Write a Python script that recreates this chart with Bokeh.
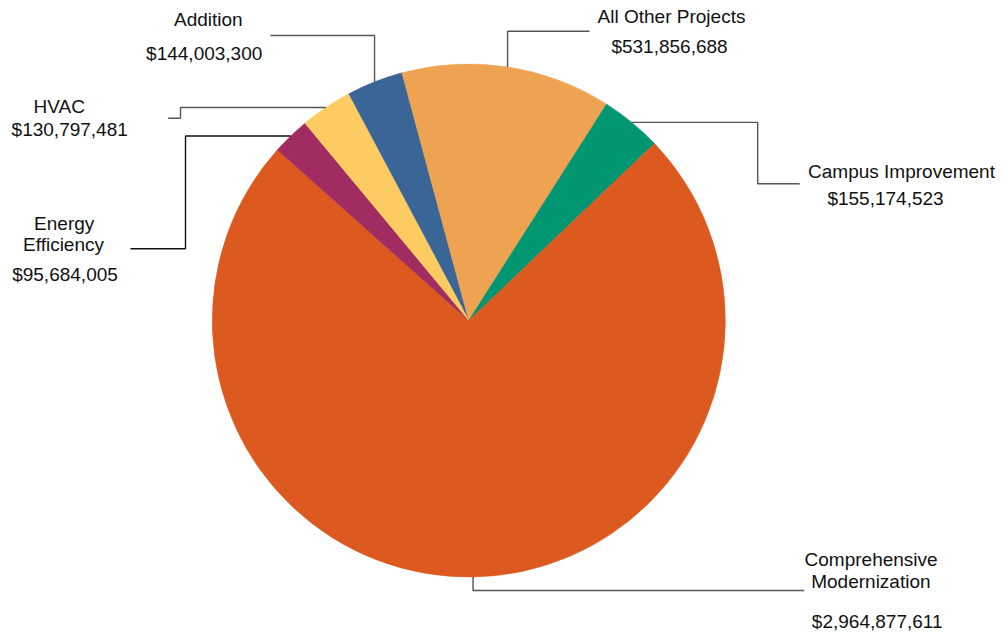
import numpy as np
from bokeh.plotting import figure
from bokeh.models import Range1d
from bokeh.embed import file_html
from bokeh.resources import INLINE
from bokeh.core.properties import value

# ---------------- data ----------------
categories = ["Addition", "All Other Projects", "Campus Improvement",
              "Comprehensive Modernization", "Energy Efficiency", "HVAC"]
amounts = [144003300, 531856688, 155174523, 2964877611, 95684005, 130797481]
colors = ["#3A6597", "#EEA352", "#009672", "#DC5A20", "#A02C61", "#FCCB61"]

# ---------------- layout (reference pixel coords, y downward) ----------------
W, H = 1003, 634
CX, CY, R = 468.3, 320.0, 256.5
START = -28.0  # degrees, clockwise from 12 o'clock

name_lines = {
    "Addition": [("Addition", 207.8, 18.5)],
    "All Other Projects": [("All Other Projects", 671.0, 15.5)],
    "Campus Improvement": [("Campus Improvement", 901.0, 170.5)],
    "Comprehensive Modernization": [("Comprehensive", 870.6, 559.0),
                                    ("Modernization", 870.4, 581.0)],
    "Energy Efficiency": [("Energy", 63.7, 223.0), ("Efficiency", 63.0, 244.0)],
    "HVAC": [("HVAC", 58.8, 106.0)],
}
value_pos = {
    "Addition": (203.7, 52.5),
    "All Other Projects": (669.0, 46.0),
    "Campus Improvement": (885.0, 197.5),
    "Comprehensive Modernization": (876.7, 621.0),
    "Energy Efficiency": (64.5, 274.0),
    "HVAC": (69.2, 129.0),
}
leader_routes = {
    "Addition": ("v", 35.0, [(270.0, 35.0)]),
    "All Other Projects": ("v", 30.7, [(589.0, 30.7)]),
    "Campus Improvement": ("h", 757.2, [(757.2, 183.3), (799.2, 183.3)]),
    "Comprehensive Modernization": ("v", 590.0, [(803.8, 590.0)]),
    "Energy Efficiency": ("h", 185.0, [(185.0, 248.3), (130.0, 248.3)]),
    "HVAC": ("h", 180.0, [(180.0, 117.7), (167.7, 117.7)]),
}
leader_colors = {
    "Energy Efficiency": "#111111",
}
FONT = "Liberation Sans"
FSIZE = "19px"


def Y(y):
    return H - y


vals = np.array(amounts, dtype=float)
frac = vals / vals.sum()
cum = np.cumsum(frac)
th_start = START + 360.0 * (cum - frac)
th_end = START + 360.0 * cum
th_mid = (th_start + th_end) / 2.0

p = figure(width=W, height=H, x_range=Range1d(0, W), y_range=Range1d(0, H),
           output_backend="svg", toolbar_location=None, min_border=0,
           x_axis_location=None, y_axis_location=None)
p.grid.visible = False
p.outline_line_color = None
p.background_fill_color = "white"
p.border_fill_color = "white"

p.wedge(x=CX, y=Y(CY), radius=R,
        start_angle=list(np.radians(90.0 - th_end)),
        end_angle=list(np.radians(90.0 - th_start)),
        fill_color=colors, line_color=colors, line_width=0.6)

# leader lines
for i, cat in enumerate(categories):
    m = np.radians(th_mid[i])
    ax = CX + R * np.sin(m)
    ay = CY - R * np.cos(m)
    kind, first, rest = leader_routes[cat]
    pts = [(ax, ay)]
    if kind == "v":
        pts.append((ax, first))
    else:
        pts.append((first, ay))
    pts += rest
    xs = [float(q[0]) for q in pts]
    ys = [float(Y(q[1])) for q in pts]
    p.line(xs, ys, line_color=leader_colors.get(cat, "#555555"), line_width=1.4)

# labels
tx, ty, tt = [], [], []
for cat, amt in zip(categories, amounts):
    for txt, x, y in name_lines[cat]:
        tx.append(x); ty.append(Y(y)); tt.append(txt)
    vx, vy = value_pos[cat]
    tx.append(vx); ty.append(Y(vy)); tt.append("${:,}".format(amt))

p.text(x=tx, y=ty, text=tt, text_align="center", text_baseline="middle",
       text_font=value(FONT), text_font_size=FSIZE, text_color="#111111")

open("out.html", "w").write(file_html(p, INLINE))
